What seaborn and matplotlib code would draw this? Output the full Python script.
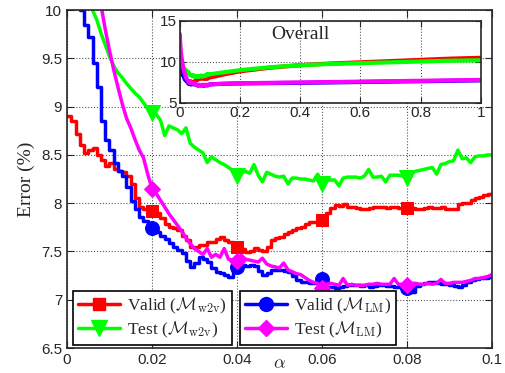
import numpy as np
import matplotlib
matplotlib.use("Agg")
import matplotlib.pyplot as plt
import seaborn as sns
from matplotlib.lines import Line2D
from matplotlib.ticker import FormatStrFormatter

# alpha sampled every 0.001 on [0, 0.1]
alpha = np.round(np.linspace(0, 0.1, 101), 3)

valid_w2v = [8.90, 8.85, 8.72, 8.60, 8.52, 8.55, 8.57, 8.50, 8.45, 8.38,
             8.42, 8.35, 8.33, 8.32, 8.28, 8.20, 8.05, 7.96, 7.94, 7.93,
             7.92, 7.90, 7.85, 7.78, 7.75, 7.74, 7.72, 7.66, 7.62, 7.55,
             7.55, 7.57, 7.57, 7.60, 7.60, 7.63, 7.65, 7.62, 7.60, 7.57,
             7.55, 7.53, 7.49, 7.50, 7.54, 7.52, 7.50, 7.55, 7.62, 7.64,
             7.65, 7.68, 7.70, 7.72, 7.74, 7.75, 7.78, 7.81, 7.80, 7.82,
             7.83, 7.90, 7.95, 7.98, 7.97, 7.99, 7.96, 7.96, 7.95, 7.94,
             7.94, 7.95, 7.96, 7.96, 7.96, 7.95, 7.96, 7.96, 7.95, 7.95,
             7.95, 7.95, 7.94, 7.94, 7.95, 7.96, 7.95, 7.95, 7.96, 7.94,
             7.94, 7.94, 7.99, 8.00, 8.00, 8.03, 8.05, 8.06, 8.08, 8.09,
             8.11]

test_w2v = [10.60, 10.50, 10.40, 10.30, 10.20, 10.10, 10.00, 9.90, 9.76, 9.64,
            9.52, 9.42, 9.35, 9.30, 9.24, 9.19, 9.14, 9.10, 9.04, 8.98,
            8.93, 8.92, 8.86, 8.70, 8.80, 8.78, 8.76, 8.72, 8.78, 8.62,
            8.58, 8.55, 8.52, 8.42, 8.48, 8.45, 8.42, 8.40, 8.37, 8.34,
            8.28, 8.32, 8.33, 8.31, 8.40, 8.29, 8.22, 8.32, 8.30, 8.28,
            8.27, 8.28, 8.20, 8.26, 8.26, 8.25, 8.25, 8.24, 8.23, 8.30,
            8.20, 8.23, 8.24, 8.24, 8.18, 8.26, 8.27, 8.27, 8.27, 8.26,
            8.28, 8.35, 8.27, 8.27, 8.28, 8.22, 8.29, 8.29, 8.29, 8.28,
            8.26, 8.31, 8.33, 8.34, 8.35, 8.36, 8.37, 8.30, 8.40, 8.41,
            8.43, 8.44, 8.55, 8.46, 8.47, 8.42, 8.48, 8.49, 8.49, 8.50,
            8.50]

valid_lm = [11.00, 10.60, 10.25, 10.00, 9.85, 9.72, 9.45, 9.20, 8.85, 8.65,
            8.55, 8.42, 8.33, 8.28, 8.17, 8.02, 7.94, 7.86, 7.82, 7.77,
            7.74, 7.70, 7.66, 7.63, 7.59, 7.55, 7.52, 7.48, 7.40, 7.34,
            7.38, 7.44, 7.42, 7.39, 7.33, 7.29, 7.28, 7.26, 7.24, 7.30,
            7.34, 7.36, 7.35, 7.36, 7.35, 7.30, 7.26, 7.28, 7.31, 7.31,
            7.31, 7.30, 7.29, 7.25, 7.20, 7.18, 7.18, 7.17, 7.17, 7.15,
            7.21, 7.13, 7.13, 7.12, 7.13, 7.14, 7.15, 7.15, 7.15, 7.14,
            7.15, 7.13, 7.14, 7.15, 7.15, 7.14, 7.14, 7.13, 7.13, 7.12,
            7.12, 7.08, 7.14, 7.16, 7.17, 7.18, 7.18, 7.17, 7.16, 7.16,
            7.15, 7.14, 7.13, 7.15, 7.18, 7.20, 7.21, 7.22, 7.22, 7.24,
            7.26]

test_lm = [13.40, 12.60, 12.00, 11.50, 11.10, 10.80, 10.50, 10.25, 10.05, 9.80,
           9.58, 9.38, 9.20, 9.03, 8.88, 8.78, 8.66, 8.55, 8.47, 8.30,
           8.15, 8.10, 8.03, 7.96, 7.89, 7.83, 7.77, 7.71, 7.64, 7.58,
           7.53, 7.50, 7.47, 7.53, 7.44, 7.47, 7.44, 7.53, 7.42, 7.41,
           7.40, 7.46, 7.42, 7.41, 7.40, 7.39, 7.43, 7.37, 7.35, 7.34,
           7.33, 7.38, 7.31, 7.29, 7.27, 7.26, 7.23, 7.20, 7.18, 7.17,
           7.12, 7.16, 7.17, 7.16, 7.15, 7.22, 7.15, 7.16, 7.15, 7.15,
           7.15, 7.16, 7.16, 7.17, 7.16, 7.16, 7.16, 7.22, 7.16, 7.16,
           7.15, 7.17, 7.17, 7.16, 7.16, 7.17, 7.16, 7.17, 7.21, 7.17,
           7.17, 7.18, 7.18, 7.18, 7.19, 7.20, 7.22, 7.22, 7.23, 7.24,
           7.26]

# coarse continuation for the inset (alpha up to 1)
alpha_tail = [0.12, 0.15, 0.2, 0.3, 0.4, 0.5, 0.6, 0.7, 0.8, 0.9, 1.0]
valid_w2v_tail = [8.25, 8.50, 8.85, 9.30, 9.60, 9.80, 9.95, 10.10, 10.25, 10.40, 10.50]
test_w2v_tail = [8.60, 8.75, 9.00, 9.35, 9.60, 9.75, 9.85, 9.95, 10.05, 10.15, 10.20]
valid_lm_tail = [7.30, 7.33, 7.38, 7.42, 7.45, 7.50, 7.55, 7.60, 7.65, 7.70, 7.75]
test_lm_tail = [7.30, 7.35, 7.40, 7.45, 7.50, 7.55, 7.60, 7.65, 7.70, 7.75, 7.80]

marker_idx = [20, 40, 60, 80]

sns.set_style("ticks", {"xtick.direction": "in", "ytick.direction": "in"})
plt.rcParams["font.family"] = ["Liberation Sans", "DejaVu Sans"]
plt.rcParams["mathtext.fontset"] = "cm"

serif = {"family": "Liberation Serif"}

fig = plt.figure(figsize=(5.05, 3.73), dpi=100)
ax = fig.add_axes([0.1327, 0.067, 0.8413, 0.906])

series = [
    ("Valid ($\\mathcal{M}_{\\mathrm{w2v}}$)", valid_w2v, valid_w2v_tail, "#ff0000", "s", 9, "steps-post"),
    ("Test ($\\mathcal{M}_{\\mathrm{w2v}}$)", test_w2v, test_w2v_tail, "#00ff00", "v", 11, "default"),
    ("Valid ($\\mathcal{M}_{\\mathrm{LM}}$)", valid_lm, valid_lm_tail, "#0000ff", "o", 10, "steps-post"),
    ("Test ($\\mathcal{M}_{\\mathrm{LM}}$)", test_lm, test_lm_tail, "#ff00ff", "D", 8, "default"),
]

handles = []
for label, vals, tail, col, mk, ms, ds in series:
    sns.lineplot(x=alpha, y=vals, color=col, lw=2.5, marker=mk, markersize=ms,
                 markevery=marker_idx, markeredgecolor=col, drawstyle=ds,
                 estimator=None, sort=False, ax=ax)
    handles.append(Line2D([], [], color=col, lw=2.5, marker=mk, markersize=ms,
                          markeredgecolor=col, label=label))

ax.set_xlim(0, 0.1)
ax.set_ylim(6.5, 10)
ax.set_xticks([0, 0.02, 0.04, 0.06, 0.08, 0.1])
ax.set_yticks([6.5, 7, 7.5, 8, 8.5, 9, 9.5, 10])
ax.xaxis.set_major_formatter(FormatStrFormatter("%g"))
ax.yaxis.set_major_formatter(FormatStrFormatter("%g"))
ax.tick_params(direction="in", top=True, right=True, labelsize=11, length=5)
ax.grid(True, linestyle=":", color="#555555", lw=0.8)
for s in ax.spines.values():
    s.set_linewidth(1.2)
ax.set_ylabel("Error (%)", fontdict=serif, fontsize=14, labelpad=4)
ax.set_xlabel("$\\alpha$", fontsize=13, va="bottom")
ax.xaxis.set_label_coords(0.5, -0.072)

leg_kw = dict(loc="lower left", fancybox=False, edgecolor="black", framealpha=1,
              prop={"family": "Liberation Serif", "size": 12.5}, numpoints=1,
              handlelength=2.4, borderpad=0.3, labelspacing=0.2,
              handletextpad=0.4, borderaxespad=0)
leg1 = ax.legend(handles=handles[:2], bbox_to_anchor=(0.014, 0.009), **leg_kw)
leg1.get_frame().set_linewidth(1.2)
ax.add_artist(leg1)
leg2 = ax.legend(handles=handles[2:], bbox_to_anchor=(0.407, 0.009), **leg_kw)
leg2.get_frame().set_linewidth(1.2)

# inset: whole alpha range
ins = fig.add_axes([0.356, 0.724, 0.596, 0.220])
for label, vals, tail, col, mk, ms, ds in series:
    sns.lineplot(x=list(alpha) + alpha_tail, y=list(vals) + tail, color=col,
                 lw=3, estimator=None, sort=False, ax=ins)
ins.set_xlim(0, 1)
ins.set_ylim(5, 15)
ins.set_xticks([0, 0.2, 0.4, 0.6, 0.8, 1])
ins.set_yticks([5, 10, 15])
ins.xaxis.set_major_formatter(FormatStrFormatter("%g"))
ins.tick_params(direction="in", top=True, right=True, labelsize=11, length=4, pad=2)
ins.grid(True, linestyle=":", color="#555555", lw=0.8)
for s in ins.spines.values():
    s.set_linewidth(1.2)
ins.text(0.4, 13.4, "Overall", fontdict=serif, fontsize=14, ha="center", va="center")

fig.savefig("out.png", dpi=100)
